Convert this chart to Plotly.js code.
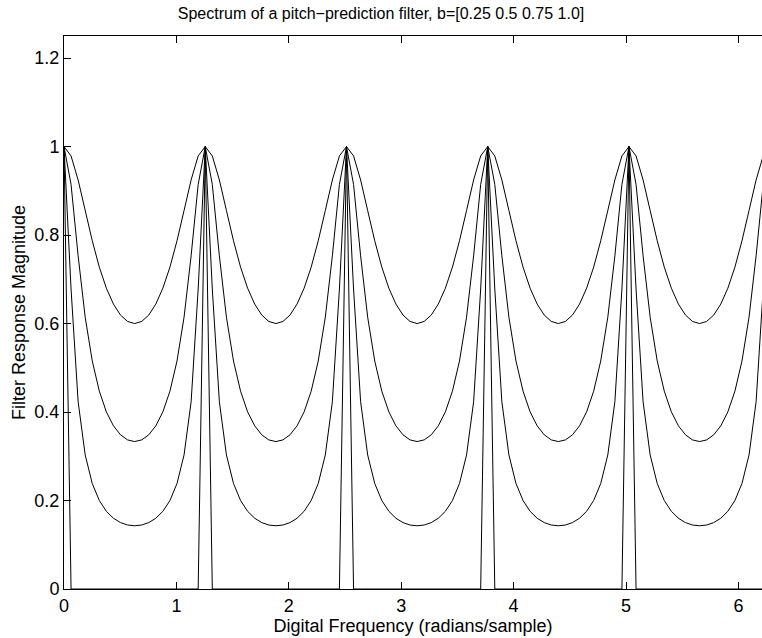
<!DOCTYPE html>
<html>
<head>
<meta charset="utf-8">
<script src="https://cdn.plot.ly/plotly-3.0.1.min.js"></script>
<style>
html, body { margin: 0; padding: 0; background: #fff; overflow: hidden; }
#chart { width: 762px; height: 638px; }
</style>
</head>
<body>
<div id="chart"></div>
<script>
// Digital frequency samples (radians/sample)
const freq = [
0,0.0628,0.1257,0.1885,0.2513,0.3142,0.3770,0.4398,0.5027,0.5655,
0.6283,0.6912,0.7540,0.8168,0.8796,0.9425,1.0053,1.0681,1.1310,1.1938,
1.2566,1.3195,1.3823,1.4451,1.5080,1.5708,1.6336,1.6965,1.7593,1.8221,
1.8850,1.9478,2.0106,2.0735,2.1363,2.1991,2.2619,2.3248,2.3876,2.4504,
2.5133,2.5761,2.6389,2.7018,2.7646,2.8274,2.8903,2.9531,3.0159,3.0788,
3.1416,3.2044,3.2673,3.3301,3.3929,3.4558,3.5186,3.5814,3.6442,3.7071,
3.7699,3.8327,3.8956,3.9584,4.0212,4.0841,4.1469,4.2097,4.2726,4.3354,
4.3982,4.4611,4.5239,4.5867,4.6496,4.7124,4.7752,4.8381,4.9009,4.9637,
5.0265,5.0894,5.1522,5.2150,5.2779,5.3407,5.4035,5.4664,5.5292,5.5920,
5.6549,5.7177,5.7805,5.8434,5.9062,5.9690,6.0319,6.0947,6.1575,6.2204
];

// Magnitude, b = 0.25
const mag_b025 = [
1,0.9789,0.9246,0.8555,0.7871,0.7276,0.6799,0.6440,0.6192,0.6048,
0.6000,0.6048,0.6192,0.6440,0.6799,0.7276,0.7871,0.8555,0.9246,0.9789,
1,0.9789,0.9246,0.8555,0.7871,0.7276,0.6799,0.6440,0.6192,0.6048,
0.6000,0.6048,0.6192,0.6440,0.6799,0.7276,0.7871,0.8555,0.9246,0.9789,
1,0.9789,0.9246,0.8555,0.7871,0.7276,0.6799,0.6440,0.6192,0.6048,
0.6000,0.6048,0.6192,0.6440,0.6799,0.7276,0.7871,0.8555,0.9246,0.9789,
1,0.9789,0.9246,0.8555,0.7871,0.7276,0.6799,0.6440,0.6192,0.6048,
0.6000,0.6048,0.6192,0.6440,0.6799,0.7276,0.7871,0.8555,0.9246,0.9789,
1,0.9789,0.9246,0.8555,0.7871,0.7276,0.6799,0.6440,0.6192,0.6048,
0.6000,0.6048,0.6192,0.6440,0.6799,0.7276,0.7871,0.8555,0.9246,0.9789
];

// Magnitude, b = 0.5
const mag_b050 = [
1,0.9145,0.7530,0.6144,0.5154,0.4472,0.4004,0.3688,0.3485,0.3370,
0.3333,0.3370,0.3485,0.3688,0.4004,0.4472,0.5154,0.6144,0.7530,0.9145,
1,0.9145,0.7530,0.6144,0.5154,0.4472,0.4004,0.3688,0.3485,0.3370,
0.3333,0.3370,0.3485,0.3688,0.4004,0.4472,0.5154,0.6144,0.7530,0.9145,
1,0.9145,0.7530,0.6144,0.5154,0.4472,0.4004,0.3688,0.3485,0.3370,
0.3333,0.3370,0.3485,0.3688,0.4004,0.4472,0.5154,0.6144,0.7530,0.9145,
1,0.9145,0.7530,0.6144,0.5154,0.4472,0.4004,0.3688,0.3485,0.3370,
0.3333,0.3370,0.3485,0.3688,0.4004,0.4472,0.5154,0.6144,0.7530,0.9145,
1,0.9145,0.7530,0.6144,0.5154,0.4472,0.4004,0.3688,0.3485,0.3370,
0.3333,0.3370,0.3485,0.3688,0.4004,0.4472,0.5154,0.6144,0.7530,0.9145
];

// Magnitude, b = 0.75
const mag_b075 = [
1,0.6781,0.4232,0.3030,0.2385,0.2000,0.1756,0.1599,0.1501,0.1446,
0.1429,0.1446,0.1501,0.1599,0.1756,0.2000,0.2385,0.3030,0.4232,0.6781,
1,0.6781,0.4232,0.3030,0.2385,0.2000,0.1756,0.1599,0.1501,0.1446,
0.1429,0.1446,0.1501,0.1599,0.1756,0.2000,0.2385,0.3030,0.4232,0.6781,
1,0.6781,0.4232,0.3030,0.2385,0.2000,0.1756,0.1599,0.1501,0.1446,
0.1429,0.1446,0.1501,0.1599,0.1756,0.2000,0.2385,0.3030,0.4232,0.6781,
1,0.6781,0.4232,0.3030,0.2385,0.2000,0.1756,0.1599,0.1501,0.1446,
0.1429,0.1446,0.1501,0.1599,0.1756,0.2000,0.2385,0.3030,0.4232,0.6781,
1,0.6781,0.4232,0.3030,0.2385,0.2000,0.1756,0.1599,0.1501,0.1446,
0.1429,0.1446,0.1501,0.1599,0.1756,0.2000,0.2385,0.3030,0.4232,0.6781
];

// Magnitude, b = 1.0
const mag_b100 = [
1,0,0,0,0,0,0,0,0,0,0,0,0,0,0,0,0,0,0,0,
1,0,0,0,0,0,0,0,0,0,0,0,0,0,0,0,0,0,0,0,
1,0,0,0,0,0,0,0,0,0,0,0,0,0,0,0,0,0,0,0,
1,0,0,0,0,0,0,0,0,0,0,0,0,0,0,0,0,0,0,0,
1,0,0,0,0,0,0,0,0,0,0,0,0,0,0,0,0,0,0,0
];

const seriesNames = ['b=0.25', 'b=0.5', 'b=0.75', 'b=1.0'];
const seriesValues = [mag_b025, mag_b050, mag_b075, mag_b100];

const xTicks = [0, 1, 2, 3, 4, 5, 6];
const yTicks = [0, 0.2, 0.4, 0.6, 0.8, 1, 1.2];
const yTickLabels = ['0', '0.2', '0.4', '0.6', '0.8', '1', '1.2'];

const FONT = 'Liberation Sans, Arial, Helvetica, sans-serif';

const traces = seriesValues.map((v, i) => ({
  type: 'scatter',
  mode: 'lines',
  x: freq,
  y: v,
  name: seriesNames[i],
  line: { color: '#000000', width: 1 },
  hoverinfo: 'x+y+name'
}));

const layout = {
  width: 762,
  height: 638,
  margin: { l: 64, r: 0, t: 36, b: 49, pad: 0 },
  paper_bgcolor: '#ffffff',
  plot_bgcolor: '#ffffff',
  showlegend: false,
  font: { family: FONT, size: 18, color: '#000000' },
  title: {
    text: 'Spectrum of a pitch\u2212prediction filter, b=[0.25 0.5 0.75 1.0]',
    font: { family: FONT, size: 16, color: '#000000' },
    xref: 'container', x: 0.5, xanchor: 'center',
    yref: 'container', y: 1 - 13 / 638, yanchor: 'middle'
  },
  xaxis: {
    range: [0, 6.21],
    tickmode: 'array',
    tickvals: xTicks,
    ticktext: xTicks.map(String),
    ticks: 'inside',
    ticklen: 7,
    tickwidth: 1,
    tickcolor: '#000000',
    showline: true,
    linecolor: '#000000',
    linewidth: 1,
    mirror: 'ticks',
    showgrid: false,
    zeroline: false,
    tickfont: { family: FONT, size: 18, color: '#000000' },
    title: {
      text: 'Digital Frequency (radians/sample)',
      font: { family: FONT, size: 18, color: '#000000' },
      standoff: 4
    }
  },
  yaxis: {
    range: [0, 1.25],
    tickmode: 'array',
    tickvals: yTicks,
    ticktext: yTickLabels,
    ticks: 'inside',
    ticklen: 7,
    tickwidth: 1,
    tickcolor: '#000000',
    showline: true,
    linecolor: '#000000',
    linewidth: 1,
    mirror: false,
    showgrid: false,
    zeroline: false,
    tickfont: { family: FONT, size: 18, color: '#000000' },
    title: {
      text: 'Filter Response Magnitude',
      font: { family: FONT, size: 18, color: '#000000' },
      standoff: 4
    }
  }
};

Plotly.newPlot('chart', traces, layout, { displayModeBar: false, staticPlot: true });
</script>
</body>
</html>
